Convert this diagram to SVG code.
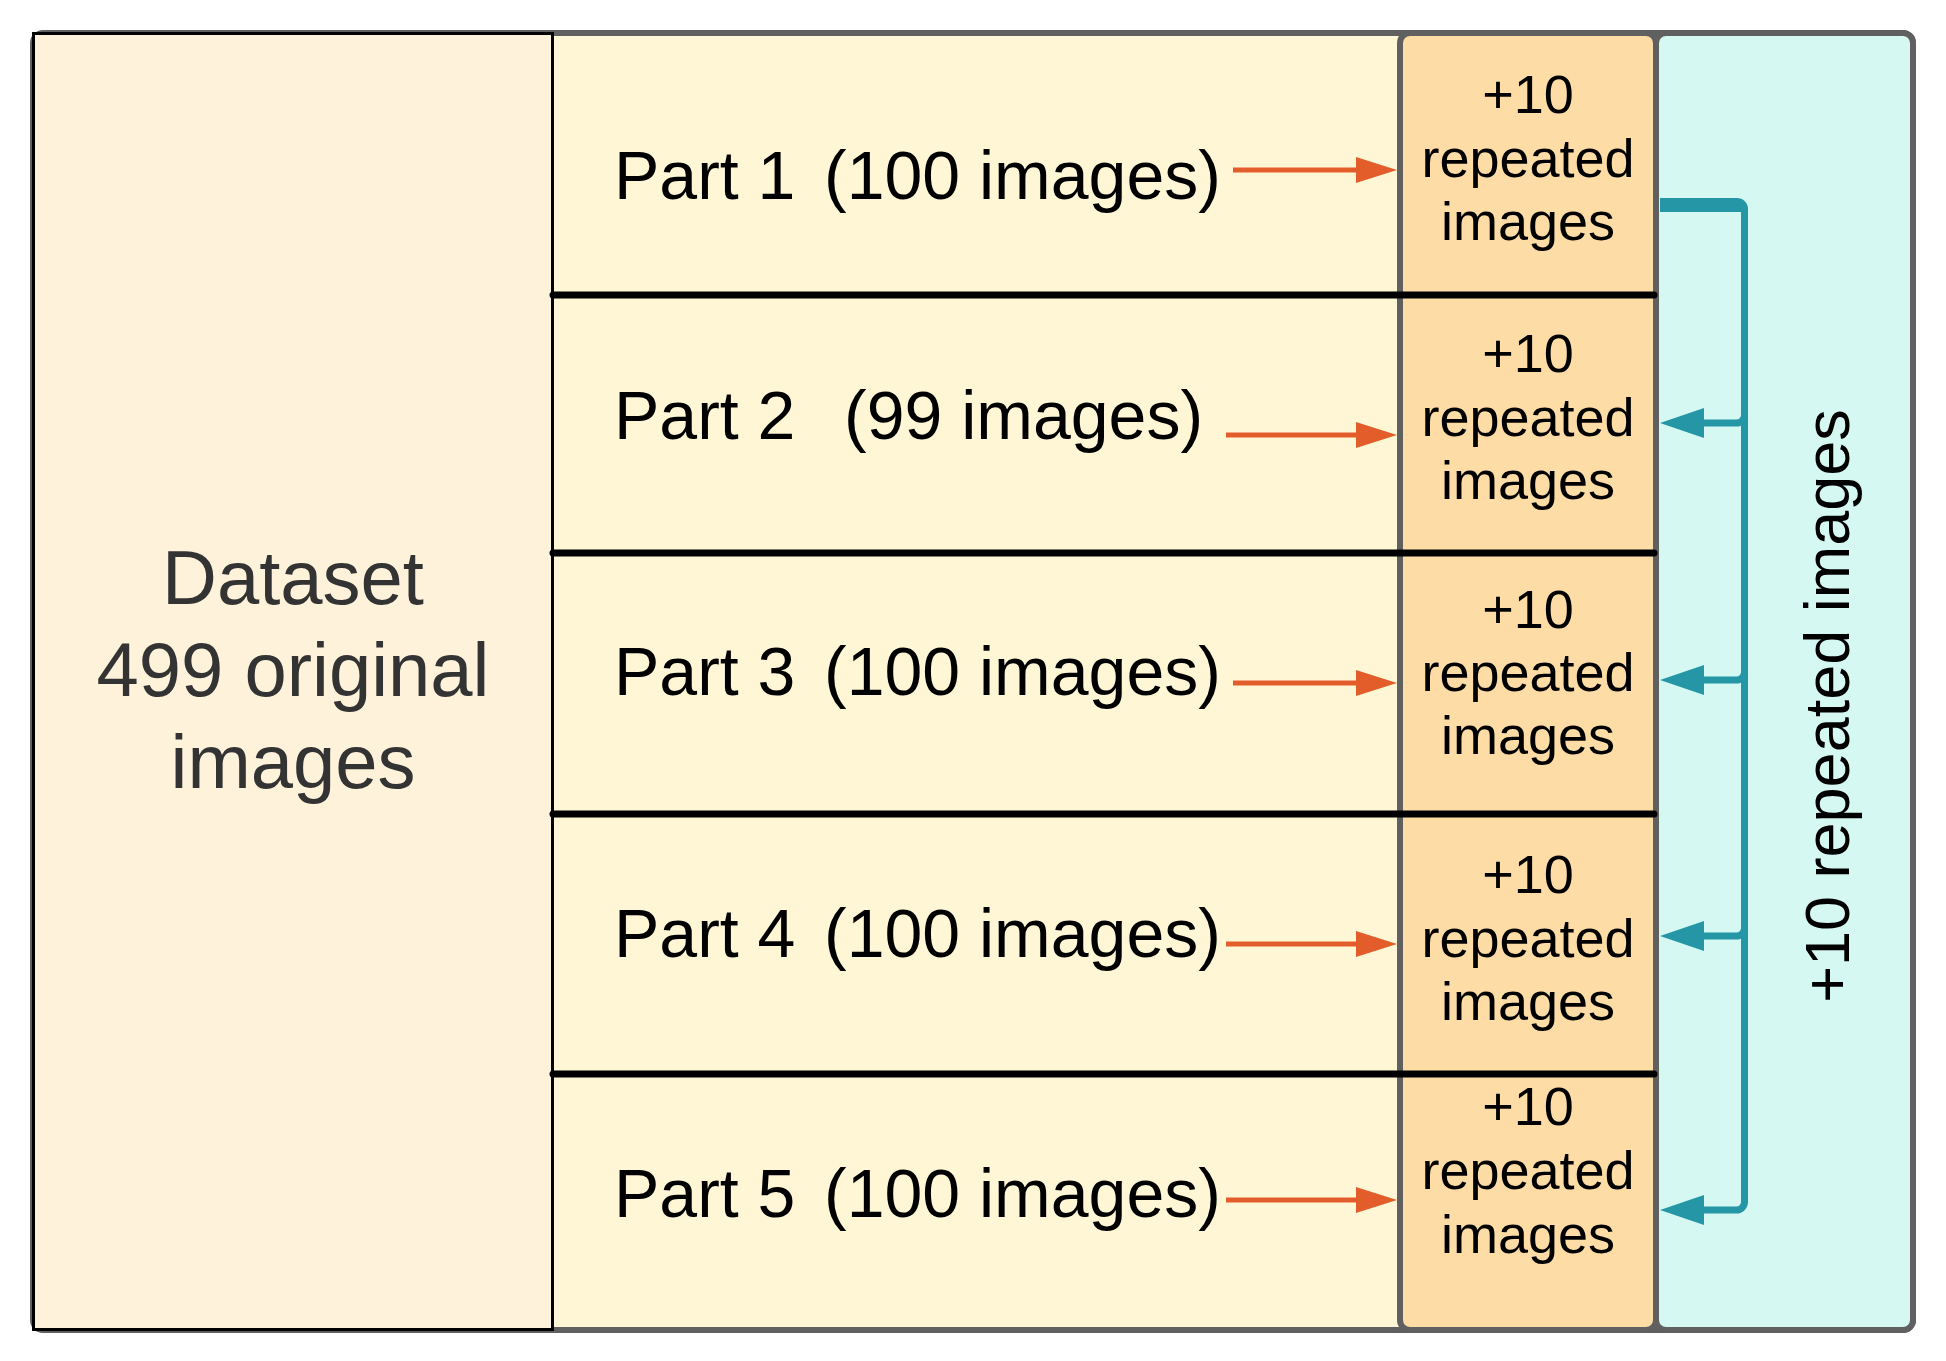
<svg xmlns="http://www.w3.org/2000/svg" width="1946" height="1361" viewBox="0 0 1946 1361">
<style>
.part{font-family:"Liberation Sans",Arial,sans-serif;font-size:68px;fill:#000}
.rep{font-family:"Liberation Sans",Arial,sans-serif;font-size:54px;fill:#000;text-anchor:middle}
.ds{font-family:"Liberation Sans",Arial,sans-serif;font-size:76px;fill:#333333;text-anchor:middle}
.vt{font-family:"Liberation Sans",Arial,sans-serif;font-size:63px;fill:#000;text-anchor:middle}
.div{stroke:#000;stroke-width:7;stroke-linecap:round}
.or{stroke:#E35D2B;stroke-width:5;fill:none}
.orh{fill:#E35D2B}
.tl{stroke:#2596A6;stroke-width:7;fill:none;stroke-linejoin:round}
.tlh{fill:#2596A6}
</style>
<rect width="1946" height="1361" fill="#ffffff"/>
<g id="frame">
<rect x="33" y="33" width="1880" height="1297" rx="10" fill="#FFF6D6" stroke="#606060" stroke-width="6"/>
</g>
<g id="dataset">
<rect x="33.5" y="33.5" width="519" height="1296" fill="#FEF3DA" stroke="#000" stroke-width="3"/>
<text class="ds" x="293" y="604">Dataset</text>
<text class="ds" x="293" y="696">499 original</text>
<text class="ds" x="293" y="788">images</text>
</g>
<g id="repeated-column">
<rect x="1400" y="33" width="256" height="1297" rx="10" fill="#FDDCA6" stroke="#606060" stroke-width="6"/>
</g>
<g id="pool">
<rect x="1656" y="33" width="257" height="1297" rx="10" fill="#D6F8F2" stroke="#606060" stroke-width="6"/>
<text class="vt" transform="translate(1849,706) rotate(-90)">+10 repeated images</text>
</g>
<g id="dividers">
<line class="div" x1="553" y1="295" x2="1654" y2="295"/>
<line class="div" x1="553" y1="553" x2="1654" y2="553"/>
<line class="div" x1="553" y1="814" x2="1654" y2="814"/>
<line class="div" x1="553" y1="1074" x2="1654" y2="1074"/>
</g>
<g id="part1">
<text class="part" y="199"><tspan x="614">Part 1</tspan><tspan x="824">(100 images)</tspan></text>
<text class="rep" x="1528" y="113">+10</text>
<text class="rep" x="1528" y="177">repeated</text>
<text class="rep" x="1528" y="240">images</text>
</g>
<g id="part2">
<text class="part" y="439"><tspan x="614">Part 2</tspan><tspan x="844">(99 images)</tspan></text>
<text class="rep" x="1528" y="372">+10</text>
<text class="rep" x="1528" y="436">repeated</text>
<text class="rep" x="1528" y="499">images</text>
</g>
<g id="part3">
<text class="part" y="695"><tspan x="614">Part 3</tspan><tspan x="824">(100 images)</tspan></text>
<text class="rep" x="1528" y="628">+10</text>
<text class="rep" x="1528" y="691">repeated</text>
<text class="rep" x="1528" y="754">images</text>
</g>
<g id="part4">
<text class="part" y="957"><tspan x="614">Part 4</tspan><tspan x="824">(100 images)</tspan></text>
<text class="rep" x="1528" y="893">+10</text>
<text class="rep" x="1528" y="957">repeated</text>
<text class="rep" x="1528" y="1020">images</text>
</g>
<g id="part5">
<text class="part" y="1217"><tspan x="614">Part 5</tspan><tspan x="824">(100 images)</tspan></text>
<text class="rep" x="1528" y="1125">+10</text>
<text class="rep" x="1528" y="1189">repeated</text>
<text class="rep" x="1528" y="1253">images</text>
</g>
<g id="connectors">
<line class="or" x1="1233" y1="170" x2="1360" y2="170"/>
<polygon class="orh" points="1397,170 1356,157 1356,183"/>
<line class="or" x1="1226" y1="435" x2="1360" y2="435"/>
<polygon class="orh" points="1397,435 1356,422 1356,448"/>
<line class="or" x1="1233" y1="683" x2="1360" y2="683"/>
<polygon class="orh" points="1397,683 1356,670 1356,696"/>
<line class="or" x1="1226" y1="944" x2="1360" y2="944"/>
<polygon class="orh" points="1397,944 1356,931 1356,957"/>
<line class="or" x1="1226" y1="1200" x2="1360" y2="1200"/>
<polygon class="orh" points="1397,1200 1356,1187 1356,1213"/>
<path class="tl" d="M1660,201.5 H1737 a7.5,7.5 0 0 1 7.5,7.5 V1202 a8,8 0 0 1 -8,8 H1700"/>
<path class="tl" d="M1660,208.5 H1741"/>
<path class="tl" d="M1744.5,415 a8,8 0 0 1 -8,8 H1700"/>
<path class="tl" d="M1744.5,672 a8,8 0 0 1 -8,8 H1700"/>
<path class="tl" d="M1744.5,928 a8,8 0 0 1 -8,8 H1700"/>
<polygon class="tlh" points="1660,423 1704,408 1704,438"/>
<polygon class="tlh" points="1660,680 1704,665 1704,695"/>
<polygon class="tlh" points="1660,936 1704,921 1704,951"/>
<polygon class="tlh" points="1660,1210 1704,1195 1704,1225"/>
</g>
</svg>
